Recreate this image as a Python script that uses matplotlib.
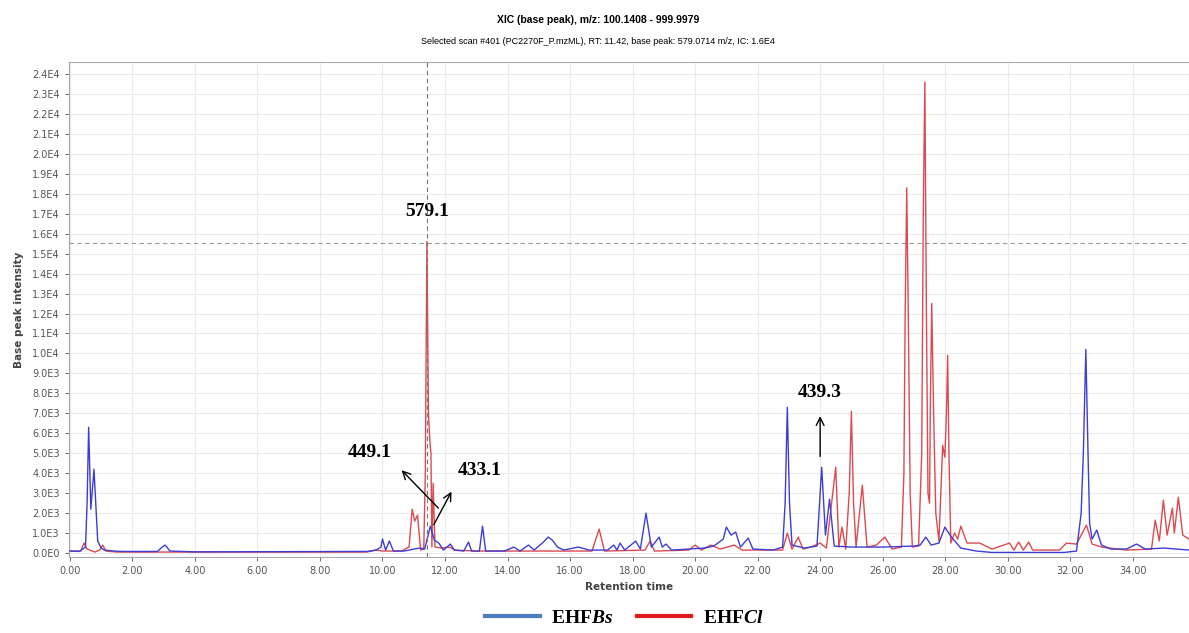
import matplotlib.pyplot as plt
from matplotlib.lines import Line2D

plt.rcParams['mathtext.fontset'] = 'custom'
plt.rcParams['mathtext.rm'] = 'Liberation Serif:bold'
plt.rcParams['mathtext.it'] = 'Liberation Serif:italic:bold'

# EHFBs (синяя кривая): время удерживания, мин / интенсивность
bs_time = [0.0, 0.3, 0.5, 0.55, 0.6, 0.67, 0.77, 0.89, 1.0, 1.1, 1.4, 1.7, 2.8, 2.95, 3.05, 3.2, 4.0,
           9.5, 9.8, 9.95, 10.0, 10.1, 10.22, 10.35, 10.7, 11.0, 11.2, 11.35, 11.53, 11.66, 11.8,
           11.95, 12.17, 12.3, 12.6, 12.75, 12.85, 13.1, 13.2, 13.3, 13.9, 14.2, 14.4, 14.67, 14.85,
           15.15, 15.3, 15.43, 15.6, 15.8, 16.27, 16.6, 16.9, 17.2, 17.4, 17.5, 17.6, 17.75, 18.1,
           18.25, 18.43, 18.6, 18.85, 18.95, 19.07, 19.25, 19.8, 20.3, 20.6, 20.9, 21.0, 21.15,
           21.3, 21.45, 21.7, 21.85, 22.5, 22.8, 22.88, 22.95, 23.02, 23.1, 23.5, 23.9, 24.05, 24.17,
           24.3, 24.45, 25.0, 26.0, 27.0, 27.2, 27.38, 27.55, 27.8, 27.99, 28.2, 28.5, 29.0, 29.5,
           31.8, 32.2, 32.35, 32.42, 32.5, 32.57, 32.62, 32.7, 32.85, 33.0, 33.3, 33.8, 34.12, 34.4,
           35.0, 35.8]
bs_int = [100, 80, 300, 2500, 6300, 2200, 4200, 600, 250, 150, 100, 80, 80, 300, 400, 100, 60,
          80, 150, 300, 700, 150, 600, 100, 100, 200, 250, 200, 1350, 650, 500,
          150, 450, 150, 100, 550, 100, 100, 1350, 100, 100, 300, 100, 400, 150,
          550, 800, 650, 300, 150, 300, 150, 150, 150, 400, 150, 500, 150, 600,
          200, 2000, 300, 800, 300, 450, 150, 200, 250, 350, 700, 1300, 900,
          1050, 300, 750, 200, 150, 300, 2500, 7300, 2500, 400, 250, 350, 4300, 900,
          2700, 350, 300, 300, 350, 400, 800, 400, 500, 1300, 800, 250, 100, 30,
          30, 100, 2000, 5000, 10200, 5000, 1500, 700, 1150, 400, 200, 200, 450, 200,
          250, 150]

# EHFCl (красная кривая)
cl_time = [0.0, 0.35, 0.45, 0.55, 0.8, 0.95, 1.05, 1.15, 1.5, 9.5, 9.8, 10.0, 10.6, 10.85, 10.95,
           11.03, 11.12, 11.22, 11.32, 11.37, 11.42, 11.47, 11.52, 11.55, 11.58, 11.62, 11.68, 11.9,
           12.15, 12.3, 13.0, 16.7, 16.93, 17.1, 18.4, 18.56, 18.7, 19.8, 20.0, 20.2, 20.5, 20.8,
           21.25, 21.5, 22.0, 22.8, 22.95, 23.1, 23.3, 23.45, 23.7, 24.0, 24.2, 24.5, 24.6, 24.7,
           24.82, 24.93, 25.0, 25.07, 25.15, 25.35, 25.5, 25.8, 26.07, 26.3, 26.6, 26.68, 26.72,
           26.77, 26.82, 26.88, 26.95, 27.15, 27.25, 27.3, 27.35, 27.4, 27.45, 27.5, 27.53, 27.57,
           27.63, 27.7, 27.8, 27.92, 27.99, 28.04, 28.08, 28.12, 28.18, 28.3, 28.4, 28.5, 28.7,
           29.1, 29.5, 30.06, 30.2, 30.35, 30.5, 30.67, 30.8, 31.66, 31.88, 32.2, 32.52, 32.7,
           33.0, 33.8, 34.6, 34.72, 34.85, 34.98, 35.1, 35.27, 35.33, 35.46, 35.6, 35.8]
cl_int = [100, 100, 500, 200, 50, 150, 400, 100, 50, 50, 150, 100, 100, 300, 2200,
          1600, 1900, 150, 200, 4000, 15600, 7000, 5500, 5000, 300, 3500, 300, 250,
          300, 150, 100, 100, 1200, 100, 150, 600, 100, 150, 400, 150, 400, 200,
          400, 150, 150, 150, 1000, 200, 800, 200, 300, 500, 250, 4300, 300, 1300,
          200, 3000, 7100, 2500, 300, 3400, 300, 400, 800, 200, 300, 4000, 12000,
          18300, 12000, 3000, 300, 350, 5000, 17000, 23600, 12000, 3000, 2500, 8000, 12500,
          7000, 2000, 600, 5400, 4800, 7000, 9900, 5000, 500, 1000, 700, 1350, 500,
          500, 200, 500, 150, 550, 150, 550, 150, 150, 500, 450, 1400, 450,
          300, 150, 200, 1650, 600, 2650, 900, 2250, 1000, 2800, 900, 700]

y_ticks = [i * 1000 for i in range(25)]
y_tick_labels = ['%.1fE%d' % (v / 10 ** len(str(v // 10)) if v else 0.0, len(str(v // 10)) if v else 0)
                 for v in y_ticks]
x_ticks = [2 * i for i in range(18)]

fig = plt.figure(figsize=(11.89, 6.33), dpi=100)
ax = fig.add_axes([0.058, 0.12, 0.942, 0.782])

ax.plot(bs_time, bs_int, color='#3d3dd4', linewidth=1.0, zorder=3)
ax.plot(cl_time, cl_int, color='#dc4a4f', linewidth=1.0, zorder=2)

# Перекрестие выбранного скана
ax.axvline(11.42, color='#777777', linestyle=(0, (4, 3)), linewidth=0.8, zorder=4)
ax.axhline(15550, color='#999999', linestyle=(0, (4, 3)), linewidth=0.8, zorder=1)

ax.set_xlim(-0.03, 35.8)
ax.set_ylim(-200, 24600)
ax.set_xticks(x_ticks)
ax.set_xticklabels(['%.2f' % v for v in x_ticks])
ax.set_yticks(y_ticks)
ax.set_yticklabels(y_tick_labels)
ax.tick_params(labelsize=7, colors='#555555', length=3, width=0.6)
ax.grid(True, color='#ebebeb', linewidth=0.8)
ax.set_axisbelow(True)
for s in ax.spines.values():
    s.set_color('#aaaaaa')

ax.set_xlabel('Retention time', fontsize=7.5, fontweight='bold', color='#444444', labelpad=4)
ax.set_ylabel('Base peak intensity', fontsize=7.5, fontweight='bold', color='#444444', labelpad=6)

fig.text(0.503, 0.968, 'XIC (base peak), m/z: 100.1408 - 999.9979', ha='center', va='center',
         fontsize=7.5, fontweight='bold', family='Liberation Sans')
fig.text(0.503, 0.935, 'Selected scan #401 (PC2270F_P.mzML), RT: 11.42, base peak: 579.0714 m/z, IC: 1.6E4',
         ha='center', va='center', fontsize=6.5, family='Liberation Sans')

# Подписи пиков
font = dict(fontsize=14, fontweight='bold', family='Liberation Serif')
ax.text(11.42, 17100, '579.1', ha='center', va='center', **font)
ax.text(9.6, 5050, '449.1', ha='center', va='center', **font)
ax.text(13.1, 4150, '433.1', ha='center', va='center', **font)
ax.text(24.0, 8050, '439.3', ha='center', va='center', **font)
arrow = dict(arrowstyle='->', color='black', lw=1.0, mutation_scale=14)
ax.annotate('', xy=(10.55, 4250), xytext=(11.85, 2150), arrowprops=arrow)
ax.annotate('', xy=(12.25, 3200), xytext=(11.6, 1300), arrowprops=arrow)
ax.annotate('', xy=(24.0, 7000), xytext=(24.0, 4700), arrowprops=arrow)

handles = [Line2D([], [], color='#4f7fbf', linewidth=3),
           Line2D([], [], color='#e01b1b', linewidth=3)]
fig.legend(handles, [r'EHF$\mathit{Bs}$', r'EHF$\mathit{Cl}$'], loc='lower center',
           bbox_to_anchor=(0.525, -0.018), ncol=2, frameon=False, handlelength=2.8,
           columnspacing=1.2, handletextpad=0.6,
           prop={'family': 'Liberation Serif', 'weight': 'bold', 'size': 14})

plt.savefig('out.png', dpi=100)
